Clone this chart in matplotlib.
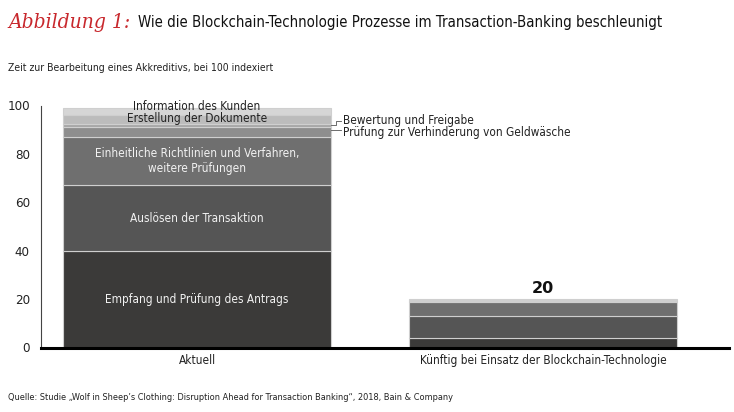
import matplotlib.pyplot as plt

# categories and stacked segments (index, Aktuell = ~100)
categories = ["Aktuell", "Künftig bei Einsatz der Blockchain-Technologie"]
segments = [
    "Empfang und Prüfung des Antrags",
    "Auslösen der Transaktion",
    "Einheitliche Richtlinien und Verfahren,\nweitere Prüfungen",
    "Prüfung zur Verhinderung von Geldwäsche",
    "Bewertung und Freigabe",
    "Erstellung der Dokumente",
    "Information des Kunden",
]
aktuell = [40, 27, 20, 4, 1.5, 3.5, 3]
kuenftig = [4, 9, 6, 0.4, 0.2, 0.2, 0.2]
total_label = "20"

colors = ["#3b3a39", "#555555", "#6f6f6f", "#8e8e8e", "#a6a6a6", "#bcbcbc", "#d6d6d6"]

plt.rcParams['font.family'] = ['DejaVu Sans']
plt.rcParams['font.stretch'] = 'condensed'

fig = plt.figure(figsize=(7.34, 4.12), dpi=100)
ax = fig.add_axes([41 / 734, (412 - 347.5) / 412, (729 - 41) / 734, 242 / 412])

x = [0, 1]
width = 0.775
bottoms = [0, 0]
for i, name in enumerate(segments):
    vals = [aktuell[i], kuenftig[i]]
    ax.bar(x, vals, width, bottom=bottoms, color=colors[i],
           edgecolor="#cfcfcf", linewidth=0.8, zorder=2)
    bottoms = [bottoms[0] + vals[0], bottoms[1] + vals[1]]

cum = 0
mids = []
for v in aktuell:
    mids.append(cum + v / 2)
    cum += v
fs = 8.5
ax.text(0, mids[0], segments[0], ha="center", va="center", color="#f2f2f2", fontsize=fs)
ax.text(0, mids[1], segments[1], ha="center", va="center", color="#f2f2f2", fontsize=fs)
ax.text(0, mids[2], segments[2], ha="center", va="center", color="#f2f2f2", fontsize=fs,
        linespacing=1.15)
ax.text(0, mids[5] + 0.5, segments[5], ha="center", va="center", color="#222222", fontsize=fs)
ax.text(0, mids[6] + 2.0, segments[6], ha="center", va="center", color="#222222", fontsize=fs,
        clip_on=False)

# leader lines to the small segments
xr = width / 2
ax.plot([xr, xr + 0.013, xr + 0.013, xr + 0.028], [mids[4], mids[4], mids[4] + 1.7, mids[4] + 1.7],
        color="#555555", lw=0.6, clip_on=False)
ax.text(xr + 0.033, mids[4] + 2.2, segments[4], ha="left", va="center", color="#222222", fontsize=fs)
ax.plot([xr, xr + 0.028], [mids[3] + 0.8, mids[3] + 0.8], color="#555555", lw=0.6, clip_on=False)
ax.text(xr + 0.033, mids[3], segments[3], ha="left", va="center", color="#222222", fontsize=fs)

ax.text(1, sum(kuenftig) + 1.2, total_label, ha="center", va="bottom", fontsize=11.5,
        fontweight="bold", color="#111111", fontstretch="normal")

ax.set_xlim(-0.451, 1.5376)
ax.set_ylim(0, 100)
ax.set_yticks([0, 20, 40, 60, 80, 100])
ax.set_xticks(x)
ax.set_xticklabels(categories, fontsize=fs, color="#222222")
ax.tick_params(axis="y", length=0, pad=8, labelsize=9.5, labelcolor="#222222")
ax.tick_params(axis="x", length=0, pad=5)
for s in ["top", "right"]:
    ax.spines[s].set_visible(False)
ax.spines["left"].set_color("#444444")
ax.spines["left"].set_linewidth(0.8)
ax.spines["bottom"].set_color("black")
ax.spines["bottom"].set_linewidth(2.2)
ax.spines["bottom"].set_zorder(3)

fig.text(8 / 734, 1 - 22 / 412, "Abbildung 1:", color="#c8282d", fontsize=15, style="italic",
         family="DejaVu Serif", va="center", ha="left")
fig.text(138 / 734, 1 - 22 / 412, "Wie die Blockchain-Technologie Prozesse im Transaction-Banking beschleunigt",
         color="#111111", fontsize=10.7, va="center", ha="left")
fig.text(8 / 734, 1 - 68 / 412, "Zeit zur Bearbeitung eines Akkreditivs, bei 100 indexiert",
         color="#222222", fontsize=7.5, va="center", ha="left")
fig.text(8 / 734, 1 - 397 / 412,
         "Quelle: Studie „Wolf in Sheep’s Clothing: Disruption Ahead for Transaction Banking“, 2018, Bain & Company",
         color="#222222", fontsize=6.6, va="center", ha="left")

fig.savefig("out.png", dpi=100)
